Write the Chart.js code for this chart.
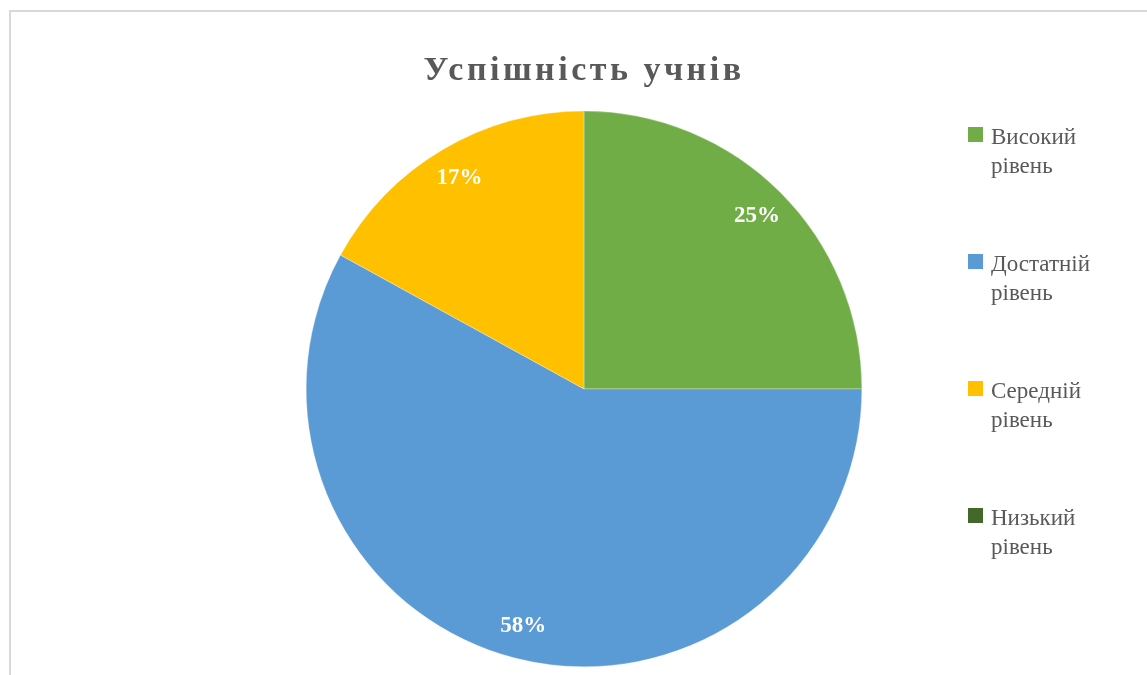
<!DOCTYPE html>
<html>
<head>
<meta charset="utf-8">
<script src="https://cdn.jsdelivr.net/npm/chart.js@4.4.1/dist/chart.umd.min.js"></script>
<style>
    html, body { margin: 0; padding: 0; background: #fff; overflow: hidden; }
    #wrap { position: relative; width: 1147px; height: 675px; }
    #frame {
        position: absolute; left: 9px; top: 10px; width: 1200px; height: 700px;
        border-left: 2px solid #d9d9d9; border-top: 2px solid #d9d9d9;
    }
    #pieChart { position: absolute; left: 0; top: 0; }
</style>
</head>
<body>
<div id="wrap">
    <div id="frame"></div>
    <canvas id="pieChart" width="1147" height="675"></canvas>
</div>
<script>
// Data
const categories = ['Високий рівень', 'Достатній рівень', 'Середній рівень', 'Низький рівень'];
const shares = [25, 58, 17, 0];
const sliceColors = ['#70AD47', '#5B9BD5', '#FFC000', '#43682B'];
const chartTitle = 'Успішність учнів';

const textGray = '#595959';
const serif = '"Liberation Serif", "Times New Roman", serif';

// title letter spacing (only while boxes are drawn)
const spacingPlugin = {
    id: 'spacing',
    beforeDraw(chart) { chart.ctx.letterSpacing = '3.5px'; },
    beforeDatasetsDraw(chart) { chart.ctx.letterSpacing = '0px'; }
};

// percentage labels inside slices
const pctLabels = {
    id: 'pctLabels',
    afterDatasetsDraw(chart) {
        const ctx = chart.ctx;
        const data = chart.data.datasets[0].data;
        const total = data.reduce((a, b) => a + b, 0);
        const meta = chart.getDatasetMeta(0);
        ctx.save();
        ctx.font = 'bold 23px ' + serif;
        ctx.fillStyle = '#ffffff';
        ctx.textAlign = 'center';
        ctx.textBaseline = 'middle';
        meta.data.forEach((arc, i) => {
            if (!data[i]) return;
            const p = arc.getProps(['x', 'y', 'startAngle', 'endAngle', 'outerRadius'], true);
            const mid = (p.startAngle + p.endAngle) / 2;
            const r = p.outerRadius * 0.88;
            const txt = Math.round(data[i] / total * 100) + '%';
            ctx.fillText(txt, p.x + Math.cos(mid) * r, p.y + Math.sin(mid) * r);
        });
        ctx.restore();
    }
};

// legend on the right with wrapped labels
const sideLegend = {
    id: 'sideLegend',
    afterDraw(chart) {
        const ctx = chart.ctx;
        const colors = chart.data.datasets[0].backgroundColor;
        ctx.save();
        ctx.font = '23px ' + serif;
        ctx.textBaseline = 'alphabetic';
        ctx.textAlign = 'left';
        chart.data.labels.forEach((label, i) => {
            const top = 127 + i * 127;
            ctx.fillStyle = colors[i];
            ctx.fillRect(968, top, 15, 15);
            ctx.fillStyle = textGray;
            label.split(' ').forEach((word, j) => {
                ctx.fillText(word, 991, top + 17 + j * 29);
            });
        });
        ctx.restore();
    }
};

new Chart(document.getElementById('pieChart').getContext('2d'), {
    type: 'pie',
    data: {
        labels: categories,
        datasets: [{
            data: shares,
            backgroundColor: sliceColors,
            borderColor: 'rgba(255,255,255,0.6)',
            borderWidth: 0.5
        }]
    },
    options: {
        responsive: false,
        animation: false,
        layout: { padding: { left: 21, right: 0, top: 0, bottom: 8 } },
        plugins: {
            legend: { display: false },
            tooltip: { enabled: false },
            title: {
                display: true,
                text: chartTitle,
                color: textGray,
                font: { family: serif, size: 34, weight: 'bold', lineHeight: 1.2 },
                padding: { top: 51, bottom: 19 }
            }
        }
    },
    plugins: [spacingPlugin, pctLabels, sideLegend]
});
</script>
</body>
</html>
